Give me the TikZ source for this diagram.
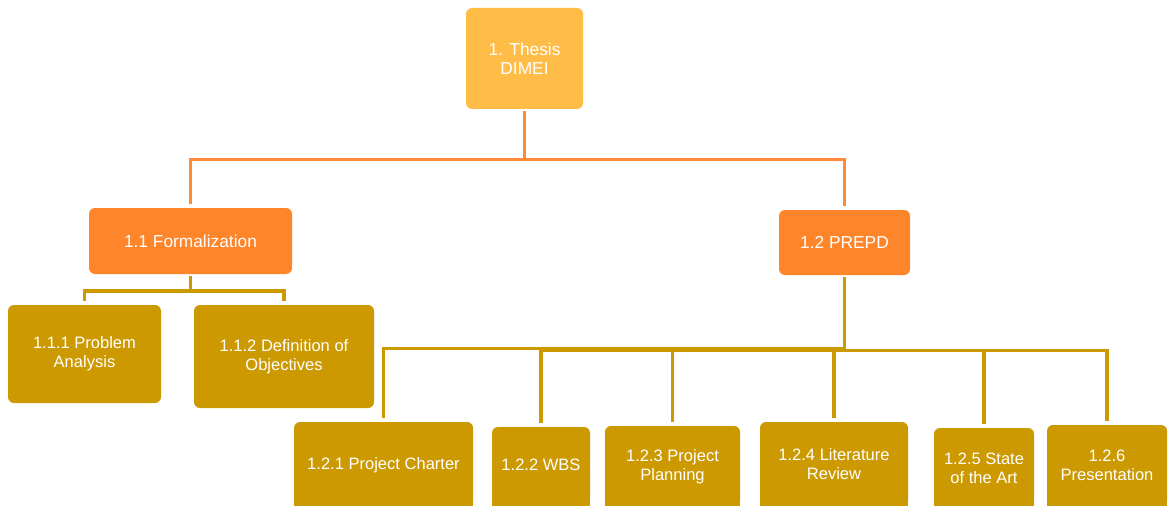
\documentclass[tikz,border=0pt]{standalone}
\usepackage{fontspec}
\setmainfont{Liberation Sans}
\newcommand\pxu{0.75pt}
\definecolor{rootfill}{HTML}{FFBC47}
\definecolor{midfill}{HTML}{FF852A}
\definecolor{leaffill}{HTML}{CC9900}
\definecolor{midline}{HTML}{FF8A3A}
\pgfdeclarelayer{bg}
\pgfsetlayers{bg,main}
\tikzset{
  wbox/.style={rectangle, rounded corners=4.5pt, inner sep=0pt, align=center,
    text=white, draw=none},
  topbox/.style={wbox, fill=rootfill, font=\fontsize{13}{14.25}\selectfont},
  midbox/.style={wbox, fill=midfill, font=\fontsize{13}{14.25}\selectfont},
  leafbox/.style={wbox, fill=leaffill, font=\fontsize{12.4}{14.25}\selectfont},
  oline/.style={draw=midline, line width=2.3pt, shorten <=1.5pt, shorten >=2.5pt},
  gline/.style={draw=leaffill, line width=2.3pt, shorten <=1.5pt, shorten >=3pt},
  boxtail/.style={fill=leaffill},
}
\begin{document}
\begin{tikzpicture}[x=0.75pt, y=-0.75pt]
\useasboundingbox (0,0) rectangle (1170,506);
\clip (0,0) rectangle (1170,506);

% top level
\node[topbox, minimum width=117*\pxu, minimum height=101*\pxu] (root) at (524.5,58.5) {1. Thesis\\DIMEI};

% second level
\node[midbox, minimum width=203*\pxu, minimum height=66*\pxu] (form) at (190.5,241) {1.1 Formalization};
\node[midbox, minimum width=131*\pxu, minimum height=65*\pxu] (prepd) at (844.5,242.5) {1.2 PREPD};

% work packages under 1.1
\node[leafbox, minimum width=153*\pxu, minimum height=98*\pxu] (pa) at (84.5,354) {1.1.1 Problem\\Analysis};
\node[leafbox, minimum width=180*\pxu, minimum height=103*\pxu] (obj) at (284,356.5) {1.1.2 Definition of\\Objectives};

% work packages under 1.2 (they run past the lower edge)
\node[leafbox, minimum width=179*\pxu, minimum height=86*\pxu] (charter) at (383.5,465) {1.2.1 Project Charter};
\node[leafbox, minimum width=98*\pxu, minimum height=76*\pxu] (wbs) at (541,465) {1.2.2 WBS};
\node[leafbox, minimum width=135*\pxu, minimum height=81*\pxu] (plan) at (672.5,466.5) {1.2.3 Project\\Planning};
\node[leafbox, minimum width=148*\pxu, minimum height=84*\pxu] (lit) at (834,464) {1.2.4 Literature\\Review};
\node[leafbox, minimum width=100*\pxu, minimum height=80*\pxu] (sota) at (984,468) {1.2.5 State\\of the Art};
\node[leafbox, minimum width=120*\pxu, minimum height=81*\pxu] (pres) at (1107,465.5) {1.2.6\\Presentation};

\begin{pgfonlayer}{bg}
  \fill[white] (0,0) rectangle (1170,506);
  \foreach \n in {charter,wbs,plan,lit,sota,pres}
    \fill[boxtail] (\n.west) rectangle ([yshift=-30pt]\n.south east);
\end{pgfonlayer}

% bus levels
\coordinate (busA) at (0,159.5);
\coordinate (busB) at (0,291);
\coordinate (busC) at (0,348.5);
\coordinate (busD) at (0,350.5);

% connectors
\draw[oline] (root.south) -- (root.south |- busA) -| (form.north);
\draw[oline] (root.south) -- (root.south |- busA) -| (prepd.north);

\draw[gline] (form.south) -- (form.south |- busB) -| (pa.north);
\draw[gline] (form.south) -- (form.south |- busB) -| (obj.north);

\draw[gline] (prepd.south) -- (prepd.south |- busC) -| (charter.north);
\draw[gline] (prepd.south) -- (prepd.south |- busD) -| (wbs.north);
\draw[gline] (prepd.south) -- (prepd.south |- busD) -| (plan.north);
\draw[gline] (prepd.south) -- (prepd.south |- busD) -| (lit.north);
\draw[gline] (prepd.south) -- (prepd.south |- busD) -| (sota.north);
\draw[gline] (prepd.south) -- (prepd.south |- busD) -| (pres.north);
\end{tikzpicture}
\end{document}
